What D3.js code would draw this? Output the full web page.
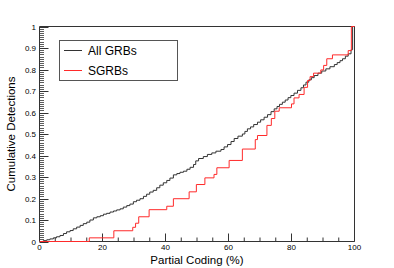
<!DOCTYPE html>
<html>
<head>
<meta charset="utf-8">
<script src="https://cdn.jsdelivr.net/npm/d3@7"></script>
<style>
  body { margin: 0; background: #fff; }
  text { font-family: "Liberation Sans", Arial, sans-serif; fill: #000; }
</style>
</head>
<body>
<svg id="plot" width="394" height="268"></svg>
<script>
// cumulative step data
const allX = [0, 1.2, 2.3, 3.3, 4.4, 5.4, 6.5, 7.6, 8.6, 9.7, 10.7, 11.8, 12.9, 13.9, 15, 16, 17.1, 18.2, 19.3,
  20.3, 21.3, 22.4, 23.5, 24.5, 25.6, 26.6, 27.7, 28.7, 29.8, 30.8, 31.9, 33, 34, 35, 36.1, 37.2, 38.2, 39.3,
  40.4, 41.4, 42.5, 43.6, 44.6, 45.7, 46.8, 47.8, 48.9, 49.6, 50.5, 52, 53.3, 54.7, 56, 57.6, 58.6, 59.7,
  60.8, 61.8, 63, 64.4, 65.2, 66, 67, 68, 69.2, 70.2, 71.3, 72.4, 73.5, 74.5, 75.4, 76.2, 77.1, 78, 78.9,
  79.8, 80.8, 81.9, 83, 83.8, 84.6, 85.5, 86.3, 87.2, 88.4, 89.6, 90.9, 92.2, 93.6, 94.5, 95.4, 96.2, 97.1,
  98, 98.9, 99.4, 100];
const allY = [0, 0.004, 0.008, 0.012, 0.017, 0.022, 0.028, 0.037, 0.045, 0.051, 0.059, 0.067, 0.075, 0.083, 0.09, 0.1, 0.11, 0.115, 0.12,
  0.127, 0.131, 0.137, 0.142, 0.147, 0.152, 0.16, 0.167, 0.174, 0.185, 0.192, 0.199, 0.21, 0.22, 0.23, 0.238, 0.25, 0.262, 0.273,
  0.284, 0.295, 0.31, 0.316, 0.322, 0.327, 0.336, 0.345, 0.358, 0.375, 0.386, 0.395, 0.405, 0.412, 0.42, 0.428, 0.44, 0.451,
  0.465, 0.479, 0.49, 0.5, 0.512, 0.524, 0.533, 0.544, 0.555, 0.566, 0.578, 0.59, 0.604, 0.617, 0.628, 0.638, 0.648, 0.658, 0.669,
  0.679, 0.69, 0.703, 0.715, 0.728, 0.741, 0.752, 0.762, 0.772, 0.783, 0.793, 0.803, 0.813, 0.823, 0.832, 0.841, 0.85, 0.862,
  0.873, 0.892, 1, 1];

const sgrbX = [0, 15.8, 23.6, 29.6, 30.5, 31.5, 34.8, 40.4, 42.5, 47.5, 49.8, 52.5, 55.4, 56.3, 60.2, 64.4, 68.5, 69.2,
  72.2, 73.6, 74.7, 76.1, 80, 80.8, 82.4, 84, 85.1, 85.9, 87, 89.3, 90.2, 91.2, 93, 98, 99, 100];
const sgrbY = [0, 0.017, 0.05, 0.066, 0.085, 0.115, 0.148, 0.164, 0.199, 0.231, 0.265, 0.296, 0.312, 0.343, 0.377, 0.43, 0.474, 0.493,
  0.54, 0.572, 0.606, 0.622, 0.64, 0.668, 0.684, 0.717, 0.749, 0.767, 0.783, 0.798, 0.819, 0.85, 0.868, 0.888, 1, 1];

const xTicks = [0, 20, 40, 60, 80, 100];
const yTicks = [0, 0.1, 0.2, 0.3, 0.4, 0.5, 0.6, 0.7, 0.8, 0.9, 1];
const yTickLabels = ['0', '0.1', '0.2', '0.3', '0.4', '0.5', '0.6', '0.7', '0.8', '0.9', '1'];
const seriesNames = ['All GRBs', 'SGRBs'];
const seriesColors = ['#333333', '#ff2a2a'];

const svg = d3.select('#plot');
const x = d3.scaleLinear().domain([0, 100]).range([39.5, 354.5]);
const y = d3.scaleLinear().domain([0, 1]).range([241.5, 26.5]);
const axisCol = '#333';

// frame top and right
svg.append('line').attr('x1', x(0)).attr('x2', x(100)).attr('y1', y(1)).attr('y2', y(1)).attr('stroke', axisCol);
svg.append('line').attr('x1', x(100)).attr('x2', x(100)).attr('y1', y(1)).attr('y2', y(0)).attr('stroke', axisCol);

// x axis, ticks pointing up
const xAxis = svg.append('g');
xAxis.append('line').attr('x1', x(0)).attr('x2', x(100)).attr('y1', y(0)).attr('y2', y(0)).attr('stroke', axisCol);
d3.range(0, 101, 5).forEach((v) => {
  const major = v % 20 === 0;
  xAxis.append('line').attr('x1', x(v)).attr('x2', x(v)).attr('y1', y(0)).attr('y2', y(0) - (major ? 8 : 4))
    .attr('stroke', axisCol);
});
xAxis.selectAll('text.tl').data(xTicks).join('text')
  .attr('x', (d) => x(d)).attr('y', 250).attr('text-anchor', 'middle')
  .style('font-size', '8px').text((d) => d);

// y axis, ticks pointing right
const yAxis = svg.append('g');
yAxis.append('line').attr('x1', x(0)).attr('x2', x(0)).attr('y1', y(0)).attr('y2', y(1)).attr('stroke', axisCol);
d3.range(0, 101, 1).forEach((i) => {
  const major = i % 10 === 0;
  const yy = Math.round(y(i / 100)) + 0.5;
  yAxis.append('line').attr('x1', x(0)).attr('x2', x(0) + (major ? 9 : 4.5)).attr('y1', yy).attr('y2', yy)
    .attr('stroke', axisCol).attr('stroke-width', major ? 1 : 0.8);
});
yAxis.selectAll('text.tl').data(yTicks).join('text')
  .attr('x', 36).attr('y', (d) => y(d) + 3).attr('text-anchor', 'end')
  .style('font-size', '8px').text((d, i) => yTickLabels[i]);

// axis titles
svg.append('text').attr('x', 197).attr('y', 264).attr('text-anchor', 'middle')
  .style('font-size', '11.5px').text('Partial Coding (%)');
svg.append('text').attr('transform', 'translate(15,134) rotate(-90)').attr('text-anchor', 'middle')
  .style('font-size', '11.5px').text('Cumulative Detections');

// curves
const line = d3.line().curve(d3.curveStepAfter).x((d) => x(d[0])).y((d) => y(d[1]));
const series = [d3.zip(allX, allY), d3.zip(sgrbX, sgrbY)];
series.forEach((pts, i) => {
  svg.append('path').datum(pts).attr('d', line).attr('fill', 'none')
    .attr('stroke', seriesColors[i]).attr('stroke-width', 1);
});

// legend
const lg = svg.append('g');
lg.append('rect').attr('x', 59.5).attr('y', 40.5).attr('width', 118).attr('height', 40)
  .attr('fill', '#fff').attr('stroke', '#555');
seriesNames.forEach((name, i) => {
  const ly = 50.5 + i * 20;
  lg.append('line').attr('x1', 64).attr('x2', 82).attr('y1', ly).attr('y2', ly)
    .attr('stroke', seriesColors[i]);
  lg.append('text').attr('x', 88).attr('y', ly + 4.5).style('font-size', '12px').text(name);
});
</script>
</body>
</html>
